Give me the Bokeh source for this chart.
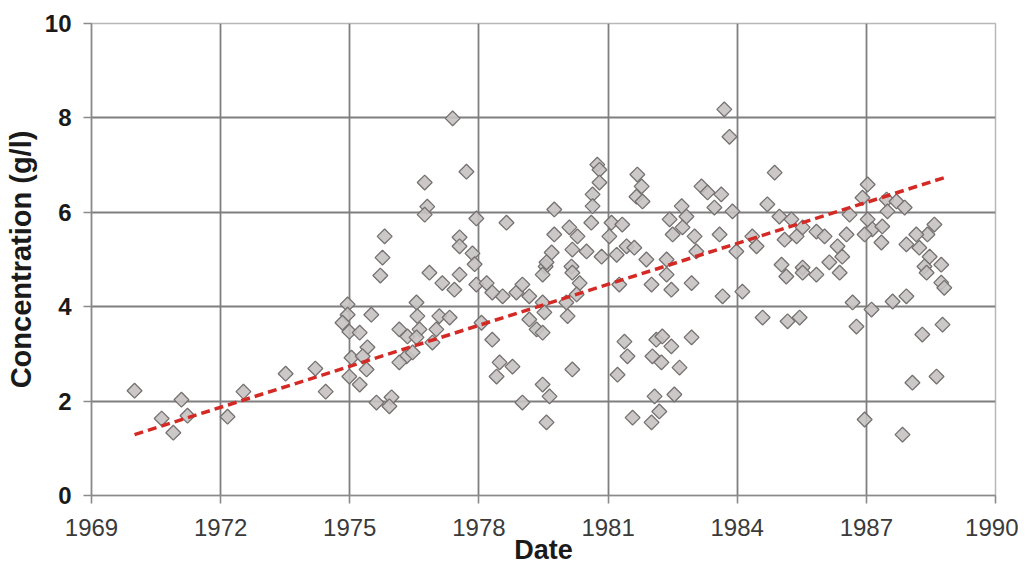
from bokeh.plotting import figure
from bokeh.models import FixedTicker, ColumnDataSource
from bokeh.embed import file_html
from bokeh.resources import INLINE

# ---- data ----
dates = [
    1970.00, 1970.63, 1970.90, 1971.09, 1971.23, 1972.16, 1972.53, 1973.51, 1974.20, 1974.44,
    1974.95, 1974.95, 1974.83, 1975.50, 1974.99, 1975.23, 1975.41, 1975.04, 1975.30, 1974.99,
    1975.23, 1975.39, 1975.71, 1975.81, 1975.76, 1975.62, 1975.97, 1975.92, 1976.15, 1976.34,
    1976.32, 1976.15, 1976.46, 1976.55, 1976.57, 1976.62, 1976.55, 1977.01, 1976.92, 1977.08,
    1977.32, 1976.85, 1977.15, 1977.43, 1977.55, 1977.94, 1978.18, 1978.06, 1978.31, 1978.48,
    1978.41, 1978.78, 1979.01, 1978.55, 1978.31, 1978.87, 1979.01, 1979.17, 1979.17, 1979.34,
    1980.03, 1977.39, 1977.71, 1976.74, 1976.80, 1976.74, 1977.94, 1978.64, 1977.55, 1977.55,
    1977.85, 1977.90, 1979.55,
    1983.70, 1983.82, 1980.75, 1980.80, 1980.80, 1980.64, 1980.64, 1981.68, 1981.78, 1981.66,
    1981.80, 1983.17, 1983.31, 1983.63, 1983.47, 1983.89, 1979.75, 1982.71, 1982.43, 1982.82,
    1982.73, 1982.50, 1983.01, 1983.59, 1980.61, 1981.08, 1981.33, 1979.75, 1980.10, 1980.29,
    1981.03, 1980.17, 1980.50, 1979.69, 1980.85, 1981.43, 1981.61, 1981.20, 1981.89, 1982.36,
    1983.05, 1983.98, 1979.57, 1980.15,
    1979.48, 1980.17, 1980.34, 1980.27, 1981.26, 1982.01, 1982.36, 1982.47, 1982.94, 1983.66,
    1984.12, 1979.48, 1979.52, 1980.06, 1979.48, 1981.38, 1981.45, 1981.22, 1980.17, 1982.12,
    1982.26, 1982.47, 1982.03, 1982.24, 1982.66, 1982.94, 1982.08, 1982.54, 1982.19, 1981.57,
    1982.01, 1979.48, 1979.64, 1979.57,
    1984.87, 1984.70, 1984.98, 1985.26, 1985.52, 1985.84, 1986.03, 1986.54, 1986.33, 1985.10,
    1985.38, 1984.35, 1984.45, 1987.03, 1986.91, 1986.61, 1987.47, 1987.70, 1987.89, 1987.49,
    1987.03, 1987.14, 1987.37, 1986.96, 1987.35, 1988.58, 1988.42, 1988.16, 1987.93, 1988.23,
    1988.47, 1988.74, 1988.35, 1985.03, 1985.52, 1986.14, 1986.44,
    1985.14, 1985.52, 1985.84, 1986.38, 1986.68, 1987.12, 1986.77, 1987.61, 1987.93, 1984.59,
    1985.17, 1985.45, 1988.30, 1988.77, 1988.07, 1988.63, 1986.96, 1987.84, 1988.40, 1988.74,
    1988.81,
]
concentration = [
    2.22, 1.63, 1.33, 2.03, 1.69, 1.67, 2.20, 2.58, 2.69, 2.20,
    4.05, 3.83, 3.66, 3.83, 3.47, 3.45, 3.14, 2.92, 2.95, 2.52,
    2.35, 2.67, 4.66, 5.49, 5.04, 1.97, 2.08, 1.89, 3.52, 3.37,
    2.95, 2.82, 3.03, 4.09, 3.80, 3.52, 3.35, 3.52, 3.24, 3.80,
    3.77, 4.72, 4.50, 4.36, 4.68, 4.47, 4.50, 3.66, 3.30, 2.82,
    2.52, 2.73, 1.97, 4.22, 4.30, 4.30, 4.47, 4.22, 3.73, 3.52,
    4.09, 7.99, 6.86, 6.63, 6.12, 5.95, 5.87, 5.78, 5.47, 5.28,
    5.13, 4.90, 4.85,
    8.18, 7.60, 7.01, 6.90, 6.63, 6.38, 6.13, 6.80, 6.55, 6.33,
    6.23, 6.55, 6.42, 6.38, 6.10, 6.02, 6.06, 6.13, 5.85, 5.91,
    5.68, 5.53, 5.49, 5.53, 5.78, 5.78, 5.74, 5.53, 5.68, 5.49,
    5.49, 5.21, 5.17, 5.15, 5.06, 5.28, 5.25, 5.10, 5.00, 5.00,
    5.17, 5.17, 4.94, 4.85,
    4.68, 4.72, 4.50, 4.26, 4.47, 4.47, 4.68, 4.36, 4.50, 4.22,
    4.32, 4.09, 3.88, 3.80, 3.45, 3.26, 2.95, 2.56, 2.67, 3.30,
    3.37, 3.16, 2.95, 2.82, 2.71, 3.35, 2.10, 2.14, 1.78, 1.65,
    1.55, 2.35, 2.10, 1.55,
    6.84, 6.17, 5.91, 5.85, 5.68, 5.59, 5.49, 5.53, 5.28, 5.42,
    5.49, 5.49, 5.28, 6.59, 6.31, 5.95, 6.27, 6.23, 6.10, 6.02,
    5.85, 5.64, 5.70, 5.53, 5.36, 5.74, 5.53, 5.53, 5.32, 5.25,
    5.06, 4.89, 4.85, 4.89, 4.83, 4.94, 5.06,
    4.64, 4.72, 4.68, 4.72, 4.09, 3.94, 3.58, 4.11, 4.22, 3.77,
    3.69, 3.77, 3.41, 3.62, 2.39, 2.52, 1.61, 1.29, 4.72, 4.51,
    4.40,
]
trend_dates = [1970.0, 1988.9]
trend_values = [1.29, 6.76]

x_ticks = [1969, 1972, 1975, 1978, 1981, 1984, 1987, 1990]
y_ticks = [0, 2, 4, 6, 8, 10]

FONT = "Liberation Sans"

p = figure(width=1018, height=569, x_range=(1969, 1990), y_range=(0, 10),
           output_backend="svg", toolbar_location=None,
           min_border_left=91, min_border_right=23, min_border_top=23, min_border_bottom=74)
p.background_fill_color = "#ffffff"
p.border_fill_color = "#ffffff"
p.outline_line_color = "#b8b8b8"
p.outline_line_width = 1.5

src = ColumnDataSource(dict(x=dates, y=concentration))
p.scatter("x", "y", source=src, marker="square", angle=0.785398, size=10.5,
          fill_color="#c6c2c2", line_color="#767171", line_width=1.3, fill_alpha=0.9)

p.line(trend_dates, trend_values, line_color="#d42a26", line_width=3.5, line_dash="9 5")

# axes
p.xaxis.ticker = FixedTicker(ticks=x_ticks)
p.yaxis.ticker = FixedTicker(ticks=y_ticks)
p.xgrid.ticker = FixedTicker(ticks=x_ticks[1:-1])
p.ygrid.ticker = FixedTicker(ticks=y_ticks[1:-1])
p.xgrid.grid_line_color = "#7f7f7f"
p.ygrid.grid_line_color = "#7f7f7f"
p.xgrid.grid_line_width = 1.8
p.ygrid.grid_line_width = 1.8

for ax in (p.xaxis[0], p.yaxis[0]):
    ax.axis_line_color = "#8a8a8a"
    ax.axis_line_width = 1.6
    ax.major_tick_line_color = "#8a8a8a"
    ax.major_tick_line_width = 1.6
    ax.major_tick_in = 0
    ax.major_tick_out = 8
    ax.minor_tick_line_color = None
    ax.major_label_text_font = FONT
    ax.axis_label_text_font = FONT
    ax.axis_label_text_font_style = "bold"
    ax.axis_label_text_color = "#1a1a1a"

p.xaxis.major_label_text_font_size = "24px"
p.xaxis.major_label_text_color = "#3a3a3a"
p.xaxis.major_label_standoff = 15
p.xaxis.axis_label = "Date"
p.xaxis.axis_label_text_font_size = "27px"
p.xaxis.axis_label_standoff = -4

p.yaxis.major_label_text_font_size = "24px"
p.yaxis.major_label_text_font_style = "bold"
p.yaxis.major_label_text_color = "#1a1a1a"
p.yaxis.major_label_standoff = 12
p.yaxis.axis_label = "Concentration (g/l)"
p.yaxis.axis_label_text_font_size = "29px"
p.yaxis.axis_label_standoff = 5

open("out.html", "w").write(file_html(p, INLINE))
